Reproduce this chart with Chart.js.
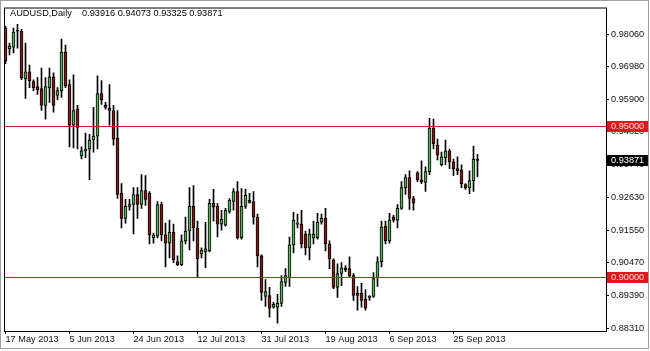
<!DOCTYPE html>
<html>
<head>
<meta charset="utf-8">
<script src="https://cdn.jsdelivr.net/npm/chart.js@4.4.0/dist/chart.umd.min.js"></script>
<style>
  html, body { margin: 0; padding: 0; background: #fff; }
</style>
</head>
<body>
<canvas id="myChart" width="650" height="351"></canvas>
<script>
// AUDUSD daily candles, 17 May 2013 - 2 Oct 2013 (broker with Sunday bars)
const symbolTitle = "AUDUSD,Daily";

const open = [
  0.9826, 0.9757, 0.9763, 0.9817, 0.9816, 0.9658, 0.9681, 0.9649, 0.9632, 0.9626,
  0.9570, 0.9629, 0.9665, 0.9603, 0.9619, 0.9747, 0.9639, 0.9504, 0.9557, 0.9402,
  0.9419, 0.9425, 0.9455, 0.9468, 0.9609, 0.9570, 0.9560, 0.9553, 0.9461, 0.9278,
  0.9195, 0.9235, 0.9241, 0.9274, 0.9241, 0.9287, 0.9278, 0.9130, 0.9136, 0.9241,
  0.9140, 0.9113, 0.9149, 0.9051, 0.9041, 0.9120, 0.9153, 0.9235, 0.9163, 0.9077,
  0.9084, 0.9087, 0.9245, 0.9235, 0.9176, 0.9172, 0.9218, 0.9251, 0.9284, 0.9130,
  0.9235, 0.9255, 0.9251, 0.9199, 0.9071, 0.8936, 0.8939, 0.8900, 0.8900, 0.8913,
  0.8982, 0.8998, 0.9107, 0.9176, 0.9176, 0.9143, 0.9097, 0.9130, 0.9130, 0.9182,
  0.9195, 0.9110, 0.9057, 0.8966, 0.9012, 0.9031, 0.9028, 0.9005, 0.8946, 0.8946,
  0.8926, 0.8933, 0.8936, 0.8998, 0.9051, 0.9169, 0.9120, 0.9199, 0.9189, 0.9228,
  0.9297, 0.9330, 0.9261, 0.9346, 0.9323, 0.9314, 0.9350, 0.9494, 0.9438, 0.9373,
  0.9396, 0.9419, 0.9382, 0.9360, 0.9356, 0.9307, 0.9297, 0.9320, 0.93916
];
const high = [
  0.9832, 0.9777, 0.9826, 0.9839, 0.9822, 0.9777, 0.9704, 0.9655, 0.9662, 0.9694,
  0.9662, 0.9694, 0.9678, 0.9629, 0.9790, 0.9770, 0.9655, 0.9671, 0.9570, 0.9432,
  0.9478, 0.9474, 0.9563, 0.9668, 0.9652, 0.9580, 0.9639, 0.9570, 0.9553, 0.9310,
  0.9258, 0.9258, 0.9297, 0.9297, 0.9340, 0.9337, 0.9284, 0.9146, 0.9251, 0.9248,
  0.9179, 0.9189, 0.9176, 0.9071, 0.9140, 0.9199, 0.9297, 0.9304, 0.9186, 0.9097,
  0.9182, 0.9258, 0.9291, 0.9245, 0.9222, 0.9228, 0.9261, 0.9294, 0.9317, 0.9294,
  0.9291, 0.9278, 0.9284, 0.9209, 0.9074, 0.8992, 0.8966, 0.8916, 0.8943, 0.9005,
  0.9028, 0.9133, 0.9215, 0.9209, 0.9222, 0.9153, 0.9159, 0.9186, 0.9212, 0.9209,
  0.9228, 0.9120, 0.9061, 0.9044, 0.9048, 0.9038, 0.9067, 0.9012, 0.8969, 0.8979,
  0.8959, 0.8939, 0.9015, 0.9067, 0.9186, 0.9186, 0.9212, 0.9205, 0.9241, 0.9317,
  0.9340, 0.9353, 0.9268, 0.9350, 0.9386, 0.9366, 0.9527, 0.9524, 0.9458, 0.9415,
  0.9455, 0.9425, 0.9392, 0.9399, 0.9373, 0.9310, 0.9353, 0.9435, 0.94073
];
const low = [
  0.9708, 0.9737, 0.9744, 0.9760, 0.9655, 0.9593, 0.9629, 0.9619, 0.9606, 0.9553,
  0.9524, 0.9580, 0.9547, 0.9589, 0.9596, 0.9629, 0.9432, 0.9429, 0.9425, 0.9392,
  0.9396, 0.9323, 0.9415, 0.9425, 0.9573, 0.9557, 0.9504, 0.9438, 0.9261, 0.9163,
  0.9179, 0.9222, 0.9143, 0.9195, 0.9228, 0.9238, 0.9110, 0.9113, 0.9130, 0.9120,
  0.9034, 0.9064, 0.9048, 0.9038, 0.9038, 0.9110, 0.9090, 0.9120, 0.8998, 0.9064,
  0.9031, 0.9084, 0.9186, 0.9133, 0.9156, 0.9169, 0.9212, 0.9222, 0.9126, 0.9126,
  0.9228, 0.9245, 0.9176, 0.9034, 0.8923, 0.8903, 0.8867, 0.8897, 0.8847, 0.8903,
  0.8969, 0.8969, 0.9080, 0.9163, 0.9097, 0.9074, 0.9057, 0.9110, 0.9126, 0.9176,
  0.9087, 0.9028, 0.8962, 0.8933, 0.8972, 0.9018, 0.8998, 0.8923, 0.8890, 0.8900,
  0.8890, 0.8923, 0.8933, 0.8969, 0.9034, 0.9110, 0.9113, 0.9182, 0.9163, 0.9225,
  0.9274, 0.9225, 0.9222, 0.9317, 0.9310, 0.9284, 0.9340, 0.9425, 0.9389, 0.9369,
  0.9373, 0.9360, 0.9337, 0.9340, 0.9297, 0.9291, 0.9277, 0.9284, 0.93325
];
const close = [
  0.9717, 0.9767, 0.9813, 0.9816, 0.9662, 0.9681, 0.9652, 0.9629, 0.9622, 0.9570,
  0.9632, 0.9665, 0.9570, 0.9619, 0.9747, 0.9635, 0.9504, 0.9553, 0.9497, 0.9419,
  0.9425, 0.9455, 0.9468, 0.9609, 0.9589, 0.9563, 0.9553, 0.9458, 0.9274, 0.9195,
  0.9235, 0.9241, 0.9274, 0.9241, 0.9287, 0.9258, 0.9140, 0.9140, 0.9241, 0.9140,
  0.9113, 0.9149, 0.9057, 0.9041, 0.9120, 0.9153, 0.9235, 0.9163, 0.9061, 0.9090,
  0.9094, 0.9245, 0.9232, 0.9176, 0.9192, 0.9222, 0.9255, 0.9284, 0.9130, 0.9235,
  0.9271, 0.9248, 0.9199, 0.9071, 0.8949, 0.8952, 0.8897, 0.8910, 0.8913, 0.8985,
  0.9005, 0.9107, 0.9189, 0.9179, 0.9110, 0.9097, 0.9143, 0.9143, 0.9182, 0.9195,
  0.9110, 0.9061, 0.8966, 0.9012, 0.9031, 0.9025, 0.9005, 0.8939, 0.8939, 0.8923,
  0.8897, 0.8936, 0.8995, 0.9051, 0.9166, 0.9120, 0.9189, 0.9189, 0.9228, 0.9297,
  0.9330, 0.9261, 0.9245, 0.9323, 0.9317, 0.9350, 0.9494, 0.9442, 0.9405, 0.9399,
  0.9419, 0.9382, 0.9360, 0.9353, 0.9310, 0.9297, 0.9320, 0.9392, 0.93871
];

// x axis: a date label every 16 bars
const xTickLabels = ["17 May 2013", "5 Jun 2013", "24 Jun 2013", "12 Jul 2013",
                     "31 Jul 2013", "19 Aug 2013", "6 Sep 2013", "25 Sep 2013"];
const barsPerLabel = 16;
// price scale
const yTickValues = [0.98060, 0.96980, 0.95900, 0.94820, 0.93740, 0.92630, 0.91550, 0.90470, 0.89390, 0.88310];
const yMin = 0.88212, yMax = 0.98946;
// horizontal lines drawn on the chart
const levelLines = [0.95000, 0.90000];

const lastIdx = close.length - 1;
const lastPrice = close[lastIdx];

const fontFamily = "'Liberation Sans', Arial, sans-serif";
const fontSize = 9.2;

//candle bodies and wicks as floating bars
const bodyData = open.map((o, i) => ({ x: i, y: [o, close[i]] }));
const wickData = low.map((l, i) => ({ x: i, y: [l, high[i]] }));
const bodyColors = open.map((o, i) => close[i] >= o ? '#5cb05c' : '#8e1a1a');

const mt4Overlay = {
    id: 'mt4Overlay',
    afterDraw(chart) {
        const ctx = chart.ctx;
        const a = chart.chartArea;
        const y = chart.scales.y;
        ctx.save();
        // chart frame
        ctx.strokeStyle = '#000';
        ctx.lineWidth = 1;
        ctx.strokeRect(a.left + 0.5, a.top + 0.5, a.right - a.left, a.bottom - a.top);
        // horizontal level lines, filled as 1px rows so they stay crisp
        ctx.fillStyle = '#d01c1c';
        levelLines.forEach(v => {
            const py = Math.floor(y.getPixelForValue(v));
            ctx.fillRect(a.left + 1, py, a.right - a.left - 1, 1);
        });
        ctx.font = fontSize + 'px ' + fontFamily;
        ctx.textBaseline = 'middle';
        ctx.textAlign = 'left';
        // price tags on the right
        const tag = (v, bg, fg) => {
            const py = Math.floor(y.getPixelForValue(v));
            ctx.fillStyle = bg;
            ctx.fillRect(a.right + 1, py - 5, 42, 11);
            ctx.fillStyle = fg;
            ctx.fillText(v.toFixed(5), a.right + 5, py + 0.5);
        };
        levelLines.forEach(v => tag(v, '#e0181c', '#ffe0e0'));
        tag(lastPrice, '#000', '#fff');
        // header text
        ctx.fillStyle = '#000';
        const ohlc = [open[lastIdx], high[lastIdx], low[lastIdx], close[lastIdx]].map(v => v.toFixed(5)).join(' ');
        ctx.fillText(symbolTitle, 10, 13);
        ctx.fillText(ohlc, 82, 13);
        // window frame
        ctx.strokeStyle = '#a0a0a0';
        ctx.strokeRect(0.5, 0.5, 648, 348);
        ctx.restore();
    }
};

const ctx = document.getElementById('myChart').getContext('2d');
const myChart = new Chart(ctx, {
    type: 'bar',
    data: {
        datasets: [{
            label: 'body',
            data: bodyData,
            backgroundColor: bodyColors,
            borderColor: '#000',
            borderWidth: 1,
            borderSkipped: false,
            barThickness: 3,
            minBarLength: 1,
            grouped: false
        }, {
            label: 'wick',
            data: wickData,
            backgroundColor: '#000',
            borderWidth: 0,
            barThickness: 1,
            grouped: false
        }]
    },
    options: {
        responsive: false,
        animation: false,
        devicePixelRatio: 1,
        layout: { padding: { left: 4, top: 4, right: 0, bottom: 0 } },
        plugins: {
            legend: { display: false },
            tooltip: { enabled: false }
        },
        scales: {
            x: {
                type: 'linear',
                offset: false,
                min: -0.375,
                max: 150.125,
                border: { display: false },
                grid: { drawOnChartArea: false, drawTicks: true, tickLength: 3, color: '#000', offset: false },
                ticks: {
                    autoSkip: false,
                    maxRotation: 0,
                    align: 'start',
                    padding: 0,
                    color: '#111',
                    font: { family: fontFamily, size: fontSize },
                    callback: (value) => xTickLabels[value / barsPerLabel]
                },
                afterBuildTicks: (scale) => {
                    scale.ticks = xTickLabels.map((t, i) => ({ value: i * barsPerLabel }));
                },
                afterFit: (scale) => { scale.height = 20; }
            },
            y: {
                position: 'right',
                min: yMin,
                max: yMax,
                border: { display: false },
                grid: { drawOnChartArea: false, drawTicks: true, tickLength: 3, color: '#000' },
                ticks: {
                    autoSkip: false,
                    padding: 2,
                    color: '#111',
                    font: { family: fontFamily, size: fontSize },
                    callback: (value) => value.toFixed(5)
                },
                afterBuildTicks: (scale) => {
                    scale.ticks = yTickValues.map(v => ({ value: v }));
                },
                afterFit: (scale) => { scale.width = 44; }
            }
        }
    },
    plugins: [mt4Overlay]
});
</script>
</body>
</html>
